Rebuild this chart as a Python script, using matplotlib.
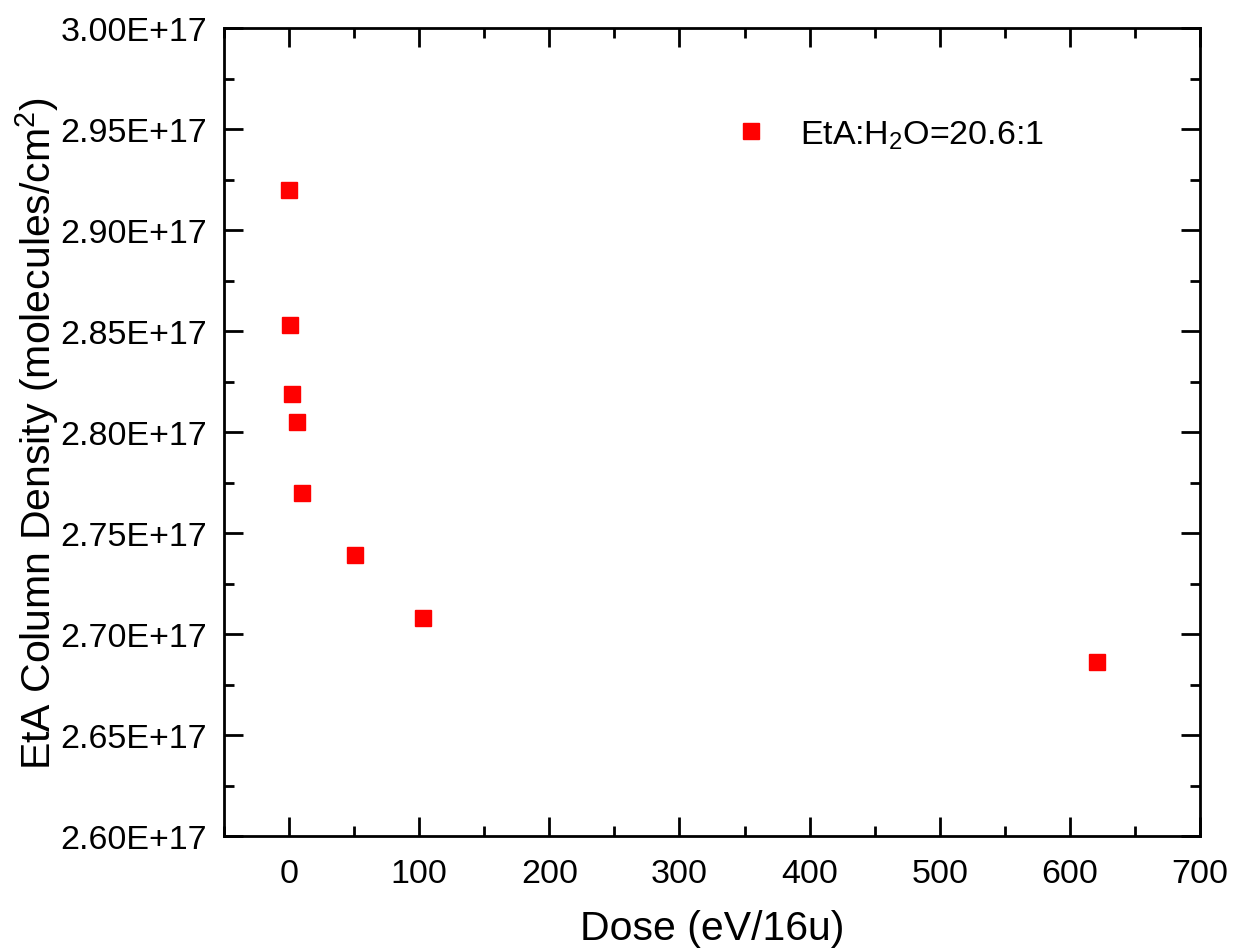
import matplotlib
matplotlib.use("Agg")
import matplotlib.pyplot as plt
from matplotlib.ticker import MultipleLocator, FuncFormatter

dose = [0, 1, 2, 6, 10, 51, 103, 621]
density = [2.920e17, 2.853e17, 2.819e17, 2.805e17, 2.770e17, 2.739e17, 2.708e17, 2.686e17]
label = "EtA:H$_2$O=20.6:1"

plt.rcParams["font.family"] = ["Liberation Sans", "DejaVu Sans"]
plt.rcParams["mathtext.fontset"] = "custom"
plt.rcParams["mathtext.rm"] = "Liberation Sans"

fig = plt.figure(figsize=(12.34, 9.53), dpi=100)
ax = fig.add_axes([224 / 1234, 1 - 837 / 953, (1200 - 224) / 1234, (837 - 29) / 953])

ax.plot(dose, density, "s", color="#ff0000", markersize=12, label=label, linestyle="none")

ax.set_xlim(-50, 700)
ax.set_ylim(2.60e17, 3.00e17)
ax.xaxis.set_major_locator(MultipleLocator(100))
ax.xaxis.set_minor_locator(MultipleLocator(50))
ax.yaxis.set_major_locator(MultipleLocator(0.05e17))
ax.yaxis.set_minor_locator(MultipleLocator(0.025e17))
ax.yaxis.set_major_formatter(FuncFormatter(lambda v, p: f"{v:.2E}"))

for s in ax.spines.values():
    s.set_linewidth(2)
ax.tick_params(which="both", direction="in", top=True, right=True, width=2, labelsize=24.5)
ax.tick_params(which="major", length=14)
ax.tick_params(which="minor", length=7)
ax.tick_params(axis="y", pad=12)
ax.tick_params(axis="x", pad=16)

ax.set_xlabel("Dose (eV/16u)", fontsize=29.5, labelpad=14)
ax.set_ylabel("EtA Column Density (molecules/cm$^2$)", fontsize=29.5, labelpad=0)

ax.legend(loc="center left", bbox_to_anchor=(0.505, 0.868), frameon=False, fontsize=24.5,
          handletextpad=0.45, borderpad=0, borderaxespad=0, markerscale=1)

fig.savefig("out.png", dpi=100)
